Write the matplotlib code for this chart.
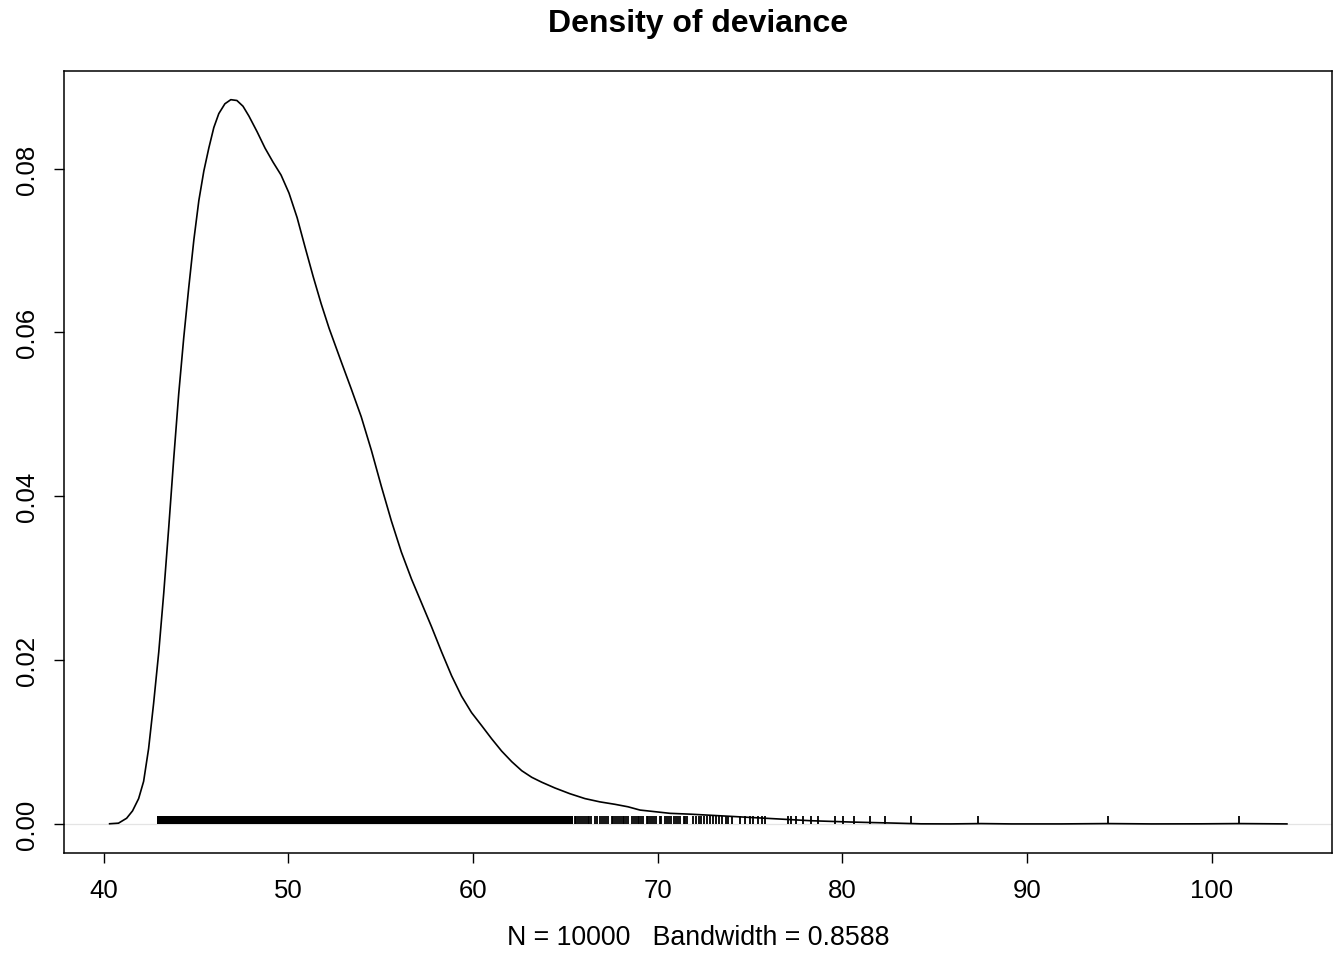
import matplotlib
matplotlib.use("Agg")
from matplotlib import pyplot as plt

plt.rcParams['font.family'] = ['Liberation Sans', 'DejaVu Sans']

# density curve
dens_x = [40.33, 40.81, 41.25, 41.57, 41.90, 42.17, 42.44, 42.71, 42.99, 43.26,
          43.53, 43.80, 44.07, 44.34, 44.61, 44.89, 45.16, 45.43, 45.70, 45.97,
          46.24, 46.57, 46.89, 47.22, 47.55, 47.87, 48.31, 48.74, 49.17, 49.61,
          50.04, 50.48, 50.91, 51.35, 51.78, 52.21, 52.87, 53.41, 53.95, 54.50,
          55.04, 55.58, 56.12, 56.67, 57.21, 57.75, 58.30, 58.84, 59.38, 59.92,
          60.47, 61.01, 61.55, 62.10, 62.64, 63.18, 63.72, 64.43, 65.24, 66.06,
          66.87, 67.69, 68.39, 69.04, 69.86, 70.67, 71.76, 73.39, 75.02, 76.65,
          78.27, 80.44, 82.62, 84.25, 85.87, 87.50, 89.13, 91.85, 94.34, 96.73,
          99.45, 101.46, 104.06]
dens_y = [0.00003, 0.0001, 0.0007, 0.0016, 0.0031, 0.0052, 0.0092, 0.0147, 0.0210, 0.0282,
          0.0362, 0.0446, 0.0525, 0.0593, 0.0654, 0.0713, 0.0761, 0.0797, 0.0825, 0.0850,
          0.0867, 0.0879, 0.0884, 0.0883, 0.0876, 0.0864, 0.0845, 0.0825, 0.0808, 0.0792,
          0.0770, 0.0740, 0.0704, 0.0668, 0.0635, 0.0605, 0.0564, 0.0531, 0.0497, 0.0456,
          0.0412, 0.0370, 0.0332, 0.0299, 0.0270, 0.0241, 0.0210, 0.0181, 0.0156, 0.0136,
          0.0120, 0.0104, 0.0089, 0.0076, 0.0065, 0.0057, 0.0051, 0.0044, 0.0037, 0.0031,
          0.0027, 0.0024, 0.0021, 0.0017, 0.0015, 0.0013, 0.0012, 0.0010, 0.0008, 0.0006,
          0.0004, 0.00024, 0.00012, 0.00002, 0.00001, 0.00005, 0.00001, 0.00001, 0.00005, 0.00001,
          0.00002, 0.00005, 0.00001]

# rug: solid band of observations, then the sparser ones
rug_band = [42.9, 65.4]
rug_ticks = [65.5, 65.6, 65.7, 65.8, 65.9, 66.0, 66.1, 66.2, 66.3, 66.4, 66.6, 66.7,
             66.9, 67.0, 67.1, 67.2, 67.3, 67.5, 67.6, 67.7, 67.8, 67.9, 68.0, 68.1,
             68.2, 68.3, 68.4, 68.6, 68.7, 68.8, 68.95, 69.0, 69.1, 69.2, 69.4, 69.5,
             69.6, 69.7, 69.8, 69.9, 70.1, 70.2, 70.4, 70.5, 70.6, 70.7, 70.9, 71.0,
             71.1, 71.2, 71.4, 71.5, 71.6,
             71.92, 72.08, 72.25, 72.36, 72.52, 72.68, 72.84, 73.0, 73.17, 73.33, 73.5,
             73.71, 73.82, 74.04, 74.47, 74.74, 75.02, 75.18, 75.45, 75.67, 75.83,
             77.03, 77.19, 77.51, 77.89, 78.27, 78.65, 79.58, 80.01, 80.61, 81.48,
             82.29, 83.70, 87.34, 94.40, 101.46]
rug_h = 0.00095

fig = plt.figure(figsize=(13.42, 9.54), dpi=100)
ax = fig.add_axes([64/1342, 1-854/954, (1332-64)/1342, (854-72)/954])

ax.axhline(0, color='#e4e4e4', lw=0.9, zorder=1)
ax.plot(dens_x, dens_y, color='black', lw=1.2, zorder=3)
ax.fill_between(rug_band, 0, rug_h, color='black', lw=0, zorder=2)
ax.vlines(rug_ticks, 0, rug_h, color='black', lw=1.3, zorder=2)

ax.set_xlim(37.86, 106.5)
ax.set_ylim(-0.00354, 0.0919)
ax.set_xticks([40, 50, 60, 70, 80, 90, 100])
ax.set_yticks([0.0, 0.02, 0.04, 0.06, 0.08])
ax.set_yticklabels(['0.00', '0.02', '0.04', '0.06', '0.08'], rotation=90, va='center')
ax.tick_params(axis='both', length=7.2, width=1.0, labelsize=18.5)
ax.tick_params(axis='x', pad=11)
ax.tick_params(axis='y', pad=11)
for s in ax.spines.values():
    s.set_linewidth(1.1)

ax.set_xlabel('N = 10000   Bandwidth = 0.8588', fontsize=19.3, va='center')
ax.xaxis.set_label_coords(0.5, -(938-854)/782)
ax.set_title('Density of deviance', fontsize=23, fontweight='bold',
             y=1+(72-24)/782, va='center', pad=0)

fig.savefig('out.png', dpi=100)
